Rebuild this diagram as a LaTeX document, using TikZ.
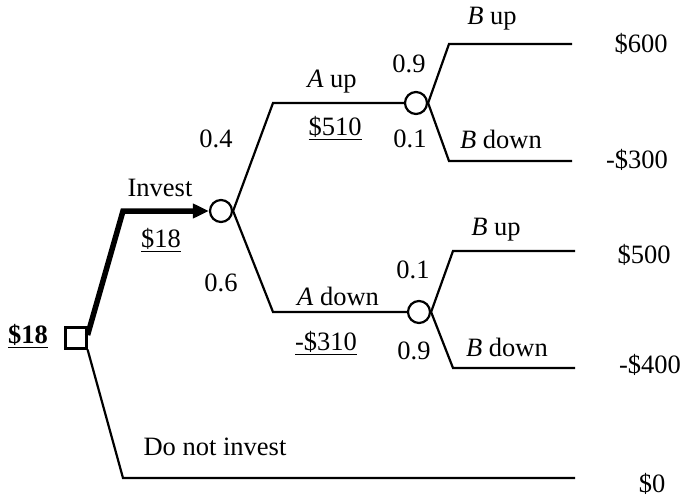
\documentclass[tikz,border=0pt]{standalone}
\usepackage{fontspec}
\setmainfont{Liberation Serif}
\usetikzlibrary{arrows.meta,positioning,calc}

\begin{document}
\begin{tikzpicture}[
  x=1pt, y=-1pt, font=\fontsize{26.5}{30}\selectfont,
  dec/.style={draw, line width=2.2pt, minimum size=21pt, inner sep=0pt},
  chance/.style={circle, draw, line width=2.2pt, minimum size=22pt, inner sep=0pt},
  branch/.style={line width=2.2pt, line join=miter},
  best/.style={line width=5.5pt, line join=miter, -{Triangle[length=16pt,width=14pt]}},
  lbl/.style={inner sep=0pt, anchor=center},
  pay/.style={inner sep=0pt, anchor=center},
]
  \useasboundingbox (0,0) rectangle (682,497);
  % nodes
  \node[dec] (root) at (76,338) {};
  \node[chance] (ca) at (221,211) {};
  \node[chance] (cb) at (416,103) {};
  \node[chance] (cc) at (419,312) {};
  % bends and leaf ends
  \coordinate (kinv) at (123,211);
  \coordinate (kno)  at (123,478);
  \coordinate (kau)  at (273,103);
  \coordinate (kad)  at (273,312);
  \coordinate (kbu1) at (449,44);
  \coordinate (kbd1) at (449,161);
  \coordinate (kbu2) at (453,251);
  \coordinate (kbd2) at (453,368);
  \coordinate (e1) at (572,44);
  \coordinate (e2) at (572,161);
  \coordinate (e3) at (575,251);
  \coordinate (e4) at (575,368);
  \coordinate (e5) at (575,478);
  % branches
  \draw[best] ($(root.east)+(0,-3)$) -- (kinv) -- (ca.west);
  \draw[branch] (root.south east) -- (kno) -- (e5);
  \draw[branch] (ca.east) -- (kau) -- (cb.west);
  \draw[branch] (ca.east) -- (kad) -- (cc.west);
  \draw[branch] (cb.east) -- (kbu1) -- (e1);
  \draw[branch] (cb.east) -- (kbd1) -- (e2);
  \draw[branch] (cc.east) -- (kbu2) -- (e3);
  \draw[branch] (cc.east) -- (kbd2) -- (e4);
  % labels
  \node[lbl] (vroot) at (28,336) {\underline{\textbf{\$18}}};
  \node[lbl] (tinv) at (160,188) {Invest};
  \node[lbl] (vinv) at (161,240) {\underline{\$18}};
  \node[lbl] (tno) at (215,447) {Do not invest};
  \node[lbl] (p04) at (216,139) {0.4};
  \node[lbl] (p06) at (221,283) {0.6};
  \node[lbl] (tau) at (332,82) {\textit{A} up};
  \node[lbl] (vau) at (335,128) {\underline{\$510}};
  \node[lbl] (tad) at (338,296) {\textit{A} down};
  \node[lbl] (vad) at (326,343) {\underline{-\$310}};
  \node[lbl] (p09a) at (409,64) {0.9};
  \node[lbl] (p01a) at (410,139) {0.1};
  \node[lbl] (p01b) at (413,270) {0.1};
  \node[lbl] (p09b) at (414,351) {0.9};
  \node[lbl] (tbu1) at (492,19) {\textit{B} up};
  \node[lbl] (tbd1) at (501,139) {\textit{B} down};
  \node[lbl] (tbu2) at (496,230) {\textit{B} up};
  \node[lbl] (tbd2) at (507,347) {\textit{B} down};
  % payoffs
  \node[pay] (v1) at (641,44) {\$600};
  \node[pay] (v2) at (637,160) {-\$300};
  \node[pay] (v3) at (644,255) {\$500};
  \node[pay] (v4) at (650,365) {-\$400};
  \node[pay] (v5) at (652,484) {\$0};
\end{tikzpicture}
\end{document}
